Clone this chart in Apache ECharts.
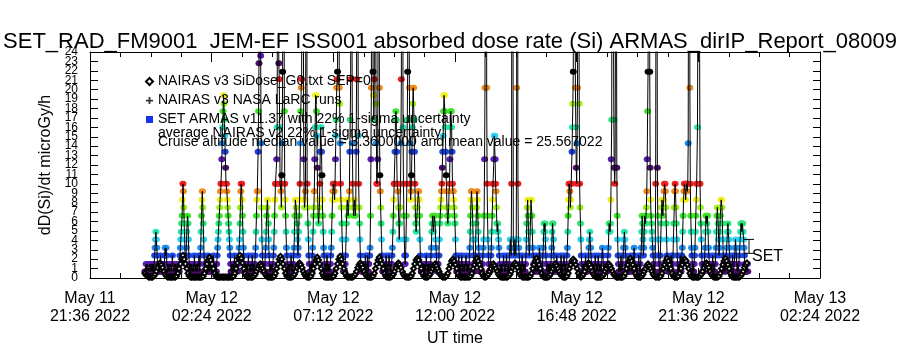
<!DOCTYPE html>
<html>
<head>
<meta charset="utf-8">
<title>SET_RAD_FM9001 JEM-EF ISS001 absorbed dose rate</title>
<script src="https://cdn.jsdelivr.net/npm/echarts@6/dist/echarts.min.js"></script>
<style>
  html, body { margin: 0; padding: 0; background: #fff; }
  #chart { width: 900px; height: 350px; }
</style>
</head>
<body>
<div id="chart"></div>
<script>
// time axis: minutes after 2022-05-11 21:36 UT
const timeTickLabels = ['May 11\n21:36 2022', 'May 12\n02:24 2022', 'May 12\n07:12 2022', 'May 12\n12:00 2022',
  'May 12\n16:48 2022', 'May 12\n21:36 2022', 'May 13\n02:24 2022'];

// SET ARMAS dose rate, one sample per minute from armasStart
const armasStart = 130;
const armasDose = [
  0.7,0.7,0.7,1.5,0.7,0.7,1.5,1.5,0.7,0.7,0.7,1.5,0.7,0.7,1.5,0.7,0.7,1.5,1.5,0.7,1.5,0.7,1.5,2.4,3.2,4.1,4.9,4.1,3.2,2.4,1.5,0.7,0.7,1.5,0.7,0.7,1.5,2.4,1.5,0.7,0.7,1.5,0.7,1.5,0.7,0.7,1.5,2.4,3.2,2.4,3.2,2.4,1.5,0.7,1.5,0.7,0.7,1.5,0.7,0.7,
  0.7,1.5,0.7,0.7,1.5,2.4,1.5,0.7,0.7,0.7,1.5,0.7,1.5,1.5,0.7,0.7,1.5,0.7,0.7,1.5,0.7,0.7,1.5,2.4,3.2,4.1,4.9,5.8,6.6,8.3,10,9.2,7.5,5.8,4.1,2.4,1.5,2.4,3.2,4.9,5.8,6.6,5.8,4.1,2.4,1.5,0.7,0.7,1.5,0.7,0.7,1.5,1.5,0.7,0.7,1.5,0.7,2.4,1.5,0.7,
  0.7,1.5,0.7,0.7,1.5,0.7,0.7,1.5,2.4,1.5,0.7,2.4,3.2,4.9,6.6,8.3,9.2,7.5,5.8,4.1,2.4,1.5,0.7,0.7,1.5,0.7,0.7,1.5,0.7,2.4,1.5,0.7,0.7,1.5,0.7,0.7,1.5,0.7,1.5,0.7,0.7,1.5,2.4,1.5,0.7,1.5,0.7,0.7,1.5,0.7,1.5,2.4,3.2,4.1,4.9,5.8,6.6,7.5,8.3,9.2,
  10,10,12.6,14.3,16,17.7,19.4,18.5,16.8,15.1,13.4,11.7,10,10,9.2,8.3,7.5,6.6,5.8,4.9,4.1,3.2,2.4,1.5,0.7,0.7,1.5,0.7,0.7,1.5,0.7,1.5,2.4,1.5,0.7,0.7,1.5,0.7,1.5,0.7,0.7,1.5,2.4,3.2,4.1,5.8,7.5,9.2,10,10,8.3,6.6,4.9,3.2,2.4,1.5,0.7,0.7,1.5,0.7,
  0.7,1.5,0.7,0.7,1.5,2.4,1.5,0.7,0.7,1.5,0.7,0.7,1.5,0.7,2.4,1.5,0.7,1.5,0.7,0.7,1.5,2.4,3.2,4.9,6.6,8.3,9.2,9.2,13.4,17.7,22.8,60,120,45,23.6,14.3,7.5,4.1,2.4,1.5,0.7,0.7,1.5,0.7,1.5,2.4,3.2,4.9,6.6,7.5,8.3,8.3,5.8,4.1,2.4,1.5,0.7,1.5,0.7,0.7,
  0.7,1.5,0.7,1.5,2.4,3.2,4.9,6.6,8.3,10,10,10,12.6,16,40,90,30,22.8,21.1,16,10,10,9.2,7.5,10.9,14.3,21.9,50,110,40,17.7,10,8.3,6.6,4.9,3.2,2.4,1.5,0.7,0.7,1.5,0.7,1.5,0.7,0.7,1.5,2.4,1.5,0.7,1.5,0.7,1.5,2.4,3.2,4.9,6.6,8.3,8.3,7.5,6.6,
  5.8,4.1,2.4,3.2,4.9,6.6,8.3,10,14.3,17.7,20.2,21.1,70,150,80,30,12.6,8.3,7.5,8.3,9.2,30,100,40,10,7.5,5.8,4.1,2.4,1.5,0.7,1.5,0.7,0.7,1.5,0.7,2.4,3.2,4.9,6.6,7.5,9.2,12.6,16,19.4,19.4,17.7,15.1,11.7,8.3,6.6,5.8,6.6,7.5,10,13.4,16,16,13.4,10.9,
  8.3,6.6,4.9,3.2,2.4,1.5,0.7,0.7,1.5,0.7,1.5,2.4,1.5,0.7,1.5,0.7,0.7,1.5,0.7,1.5,2.4,3.2,4.9,6.6,8.3,9.2,10,10,9.2,8.3,10,12.6,15.1,16.8,20.2,21.1,21.9,60,140,60,20.2,18.5,14.3,10,8.3,7.5,5.8,4.1,2.4,1.5,0.7,0.7,1.5,0.7,1.5,2.4,4.1,5.8,7.5,8.3,
  7.5,6.6,7.5,8.3,9.2,13.4,16.8,21.1,50,120,30,14.3,10,7.5,6.6,7.5,8.3,7.5,6.6,7.5,13.4,21.1,45,90,40,15.1,10,7.5,5.8,4.1,2.4,1.5,0.7,0.7,1.5,0.7,1.5,0.7,0.7,1.5,0.7,1.5,2.4,1.5,0.7,1.5,0.7,2.4,1.5,0.7,1.5,2.4,2.4,3.2,6.6,12.6,20.2,40,120,60,
  21.9,19.4,16.8,21.1,50,110,40,18.5,14.3,10,10,12.6,30,90,60,20.2,10.9,9.2,7.5,5.8,4.1,2.4,1.5,0.7,0.7,1.5,0.7,1.5,0.7,0.7,1.5,2.4,1.5,0.7,1.5,0.7,0.7,1.5,2.4,1.5,0.7,1.5,0.7,0.7,1.5,2.4,3.2,4.9,6.6,8.3,10,10,13.4,16.8,17.7,16.8,13.4,10,10,9.2,
  7.5,5.8,4.1,5.8,7.5,10,14.3,21.1,70,140,50,16,10,6.6,4.1,2.4,1.5,2.4,4.1,6.6,10,16.8,21.9,60,100,35,20.2,14.3,10,8.3,9.2,10.9,13.4,16,18.5,20.2,20.2,16.8,13.4,10,7.5,5.8,4.9,5.8,6.6,7.5,8.3,9.2,9.2,8.3,6.6,4.1,2.4,1.5,0.7,0.7,1.5,0.7,1.5,0.7,
  1.5,0.7,0.7,1.5,0.7,1.5,2.4,1.5,0.7,0.7,1.5,0.7,1.5,0.7,0.7,1.5,0.7,2.4,3.2,4.9,5.8,6.6,5.8,4.9,5.8,6.6,6.6,5.8,4.1,3.2,2.4,1.5,0.7,0.7,1.5,0.7,2.4,4.1,5.8,6.6,7.5,8.3,9.2,10,11.7,13.4,15.1,17.7,19.4,19.4,17.7,16,13.4,10.9,9.2,7.5,6.6,5.8,6.6,7.5,
  9.2,10,12.6,16,17.7,17.7,16,13.4,10,9.2,9.2,8.3,7.5,6.6,5.8,4.1,2.4,1.5,0.7,1.5,0.7,0.7,1.5,2.4,1.5,0.7,0.7,1.5,0.7,1.5,2.4,1.5,0.7,1.5,0.7,0.7,1.5,0.7,0.7,1.5,2.4,1.5,0.7,1.5,0.7,0.7,1.5,0.7,2.4,3.2,4.9,6.6,8.3,9.2,9.2,7.5,5.8,4.1,2.4,1.5,
  0.7,1.5,2.4,4.1,5.8,7.5,9.2,8.3,6.6,4.9,3.2,2.4,1.5,0.7,0.7,1.5,0.7,1.5,0.7,1.5,2.4,3.2,4.1,6.6,12.6,20.2,80,150,60,20.2,10,6.6,4.1,2.4,1.5,0.7,1.5,0.7,1.5,2.4,3.2,4.9,6.6,8.3,10,10,12.6,15.1,15.1,12.6,10,9.2,7.5,5.8,4.9,5.8,4.9,4.1,3.2,2.4,
  1.5,0.7,0.7,1.5,0.7,1.5,0.7,0.7,1.5,2.4,1.5,0.7,0.7,1.5,0.7,1.5,2.4,1.5,0.7,0.7,1.5,0.7,1.5,2.4,3.2,4.1,3.2,2.4,10,80,150,40,4.1,3.2,2.4,3.2,4.1,3.2,2.4,4.1,20.2,90,50,10,4.1,3.2,2.4,1.5,0.7,1.5,0.7,0.7,1.5,2.4,1.5,0.7,1.5,0.7,0.7,1.5,
  0.7,1.5,2.4,4.1,5.8,7.5,8.3,6.6,4.9,3.2,2.4,3.2,4.9,6.6,8.3,8.3,6.6,4.9,3.2,2.4,1.5,0.7,0.7,1.5,0.7,1.5,2.4,1.5,0.7,0.7,1.5,0.7,1.5,2.4,3.2,2.4,1.5,0.7,0.7,1.5,0.7,1.5,2.4,3.2,4.9,5.8,4.9,5.8,4.1,2.4,1.5,0.7,0.7,1.5,0.7,1.5,0.7,0.7,1.5,0.7,
  0.7,1.5,2.4,3.2,4.9,5.8,5.8,4.1,2.4,1.5,0.7,0.7,1.5,0.7,1.5,2.4,1.5,0.7,0.7,1.5,0.7,1.5,0.7,0.7,1.5,2.4,1.5,0.7,1.5,0.7,0.7,1.5,2.4,1.5,0.7,1.5,0.7,0.7,1.5,2.4,3.2,4.9,6.6,8.3,10,10,9.2,7.5,8.3,10,10,13.4,16,18.5,21.9,70,160,90,40,20.2,
  16,11.7,10,14.3,20.2,40,120,50,18.5,10,7.5,5.8,4.1,2.4,1.5,0.7,0.7,1.5,0.7,1.5,0.7,0.7,1.5,2.4,1.5,0.7,1.5,0.7,0.7,1.5,2.4,3.2,4.1,4.9,4.1,3.2,2.4,1.5,0.7,0.7,1.5,0.7,1.5,0.7,0.7,1.5,2.4,1.5,0.7,0.7,1.5,0.7,1.5,2.4,1.5,0.7,0.7,1.5,0.7,1.5,
  0.7,1.5,2.4,3.2,2.4,1.5,0.7,1.5,0.7,0.7,1.5,0.7,1.5,0.7,0.7,1.5,2.4,3.2,4.9,5.8,5.8,4.9,5.8,8.3,12.6,16.8,60,130,70,30,16.8,11.7,10,11.7,30,90,40,11.7,6.6,4.1,2.4,1.5,0.7,0.7,1.5,0.7,1.5,2.4,1.5,0.7,0.7,1.5,2.4,3.2,4.1,4.9,4.1,3.2,2.4,1.5,
  0.7,1.5,0.7,0.7,1.5,0.7,1.5,0.7,0.7,1.5,2.4,1.5,0.7,0.7,1.5,0.7,1.5,2.4,3.2,2.4,1.5,0.7,0.7,1.5,0.7,1.5,0.7,0.7,1.5,2.4,1.5,0.7,1.5,0.7,2.4,3.2,4.9,6.6,5.8,4.1,2.4,3.2,4.9,6.6,6.6,5.8,6.6,7.5,9.2,12.6,17.7,21.9,50,130,70,21.9,11.7,8.3,6.6,5.8,
  4.9,4.1,3.2,2.4,1.5,0.7,1.5,0.7,2.4,10,40,100,45,11.7,6.6,4.1,2.4,1.5,0.7,1.5,2.4,4.1,5.8,7.5,8.3,7.5,6.6,7.5,8.3,9.2,10,10,9.2,7.5,5.8,4.1,2.4,1.5,0.7,0.7,1.5,0.7,1.5,0.7,0.7,1.5,2.4,1.5,0.7,1.5,2.4,4.1,5.8,7.5,9.2,10,9.2,7.5,5.8,4.1,
  2.4,1.5,0.7,1.5,0.7,0.7,1.5,2.4,1.5,0.7,1.5,2.4,3.2,4.9,6.6,8.3,9.2,10,10,9.2,8.3,9.2,10,10,9.2,10,14.3,40,110,60,20.2,10,6.6,4.9,3.2,2.4,1.5,0.7,1.5,0.7,1.5,2.4,3.2,4.9,6.6,8.3,10,10,16,30,100,180,70,25,10,7.5,5.8,4.1,2.4,1.5,
  0.7,0.7,1.5,0.7,1.5,2.4,3.2,4.9,6.6,6.6,5.8,6.6,6.6,4.9,3.2,2.4,1.5,0.7,0.7,1.5,0.7,1.5,0.7,1.5,2.4,1.5,0.7,1.5,0.7,0.7,1.5,2.4,3.2,4.9,6.6,7.5,6.6,5.8,4.1,2.4,3.2,4.9,6.6,7.5,8.3,8.3,7.5,5.8,4.1,2.4,1.5,0.7,1.5,0.7,0.7,1.5,2.4,3.2,4.1,4.9,
  5.8,4.9,4.1,3.2,2.4,1.5,0.7,0.7,1.5,0.7,1.5,2.4,1.5,0.7,0.7,1.5,2.4,3.2,4.1,3.2,2.4,1.5,0.7,1.5,0.7,0.7,1.5,2.4,3.2,4.1,4.9,5.8,5.8,4.9,5.8,5.8,4.9,4.1,3.2,2.4,1.5,0.7,0.7,1.5,0.7,0.7,1.5,0.7
];

// NAIRAS v3 model dose rate, one sample every 3 minutes from nairasStart
const nairasStart = 130;
const nairasStep = 3;
const nairasDose = [
  0.5,0.3,0.2,0.1,0.1,0.1,0.1,
  0.2,0.4,0.7,1.1,1.4,1.6,1.4,1.1,0.7,0.4,0.2, 0.1,0.1,0.1,0.1,0.1,0.1,0.1,
  0.2,0.5,1.0,1.5,2.0,2.4,2.0,1.5,1.0,0.5,0.2, 0.1,0.1,0.1,0.1,0.1,0.1,0.1,0.1,0.1,0.1,
  0.2,0.5,1.0,1.5,1.9,2.2,1.9,1.5,1.0,0.5,0.2, 0.1,0.1,0.1,0.1,0.1,0.1,0.1,0.1,0.1,0.1,0.1,0.1,0.1,
  0.2,0.5,1.0,1.6,2.1,2.4,2.1,1.6,1.0,0.5,0.2, 0.1,0.1,0.1,0.1,0.1,
  0.2,0.4,0.7,1.0,1.3,1.5,1.3,1.0,0.7,0.4,0.2, 0.1,0.1,0.1,0.1,0.1,
  0.2,0.5,1.0,1.5,2.0,2.3,2.0,1.5,1.0,0.5,0.2, 0.1,0.1,0.1,0.1,
  0.2,0.4,0.7,1.1,1.4,1.6,1.4,1.1,0.7,0.4,0.2, 0.1,0.1,0.1,
  0.2,0.5,1.0,1.5,1.9,2.2,1.9,1.5,1.0,0.5,0.2, 0.1,0.1,0.1,0.1,0.1,0.1,0.1,
  0.2,0.5,1.0,1.5,2.0,2.3,2.0,1.5,1.0,0.5,0.2, 0.1,0.1,0.1,0.1,0.1,
  0.2,0.4,0.7,1.1,1.4,1.6,1.4,1.1,0.7,0.4,0.2, 0.1,0.1,0.1,0.1,
  0.2,0.5,1.0,1.5,1.9,2.2,1.9,1.5,1.0,0.5,0.2, 0.1,0.1,0.1,0.1,
  0.2,0.4,0.7,1.1,1.4,1.6,1.4,1.1,0.7,0.4,0.2, 0.1,0.1,0.1,0.1,
  0.2,0.5,1.0,1.5,1.9,2.1,1.9,1.5,1.0,0.5,0.2, 0.1,0.1,0.1,
  0.2,0.4,0.7,1.0,1.3,1.5,1.3,1.0,0.7,0.4,0.2, 0.1,0.1,0.1,
  0.2,0.5,1.0,1.4,1.8,2.0,1.8,1.4,1.0,0.5,0.2, 0.1,0.1,0.1,0.1,0.1,0.1,0.1,0.1,
  0.2,0.5,1.0,1.4,1.8,2.1,1.8,1.4,1.0,0.5,0.2, 0.1,0.1,
  0.2,0.4,0.7,1.0,1.3,1.5,1.3,1.0,0.7,0.4,0.2, 0.1,0.1,0.1,0.1,0.1,0.1,
  0.2,0.4,0.7,1.1,1.4,1.6,1.4,1.1,0.7,0.4,0.2, 0.1,0.1,0.1,0.1,0.1,0.1,
  0.2,0.5,1.0,1.4,1.8,2.1,1.8,1.4,1.0,0.5,0.2, 0.1,0.1,0.1,0.1,
  0.2,0.4,0.7,1.0,1.3,1.5,1.3,1.0,0.7,0.4,0.2, 0.1,0.1,0.1,
  0.2,0.5,1.0,1.4,1.8,2.0,1.8,1.4,1.0,0.5,0.2, 0.1,
  0.2,0.4,0.7,1.1,1.4,1.6,1.4,1.1,0.7,0.4,0.2, 0.1,0.1,0.1,0.1,0.1,
  0.2,0.4,0.7,1.0,1.3,1.5,1.3,1.0,0.7,0.4,0.2, 0.1,0.1,0.1,0.1,0.1,0.1,
  0.2,0.5,1.0,1.4,1.8,2.1,1.8,1.4,1.0,0.5,0.2, 0.1,0.1,0.1,
  0.2,0.4,0.7,1.0,1.3,1.5,1.3,1.0,0.7,0.4,0.2, 0.1,0.1,0.1,0.1,
  0.2,0.5,1.0,1.4,1.8,2.1,1.8,1.4,1.0,0.5,0.2, 0.1,0.1,0.1,
  0.2,0.5,1.0,1.4,1.8,2.0,1.8,1.4,1.0,0.5,0.2, 0.1,0.1,0.1,0.1,0.1,0.1,
  0.2,0.4,0.7,1.1,1.4,1.6,1.4,1.1,0.7,0.4,0.2, 0.1,0.1,0.1,0.1,
  0.2,0.5,1.0,1.4,1.8,2.1,1.8,1.4,1.0,0.5,0.2, 0.1,0.1,0.1,0.1,0.1,0.1,
  0.2,0.4,0.7,1.1,1.4,1.6
];

// SET uncertainty bar: cruise median with 22% 1-sigma
const setMedian = 3.36;
const setSigma = 0.22;
const setBarMinute = 1560;

const legendNames = ['NAIRAS v3 SiDose_G0.txt SEP=0', 'NAIRAS v3 NASA LaRC runs', 'SET ARMAS v11.37 with 22% 1-sigma uncertainty'];
const noteLines = ['average NAIRAS v2 22% 1-sigma uncertainty',
  'Cruise altitude median value = 3.3600000 and mean value = 25.567022'];

// IDL style colour table, cycles every 13 dose steps
const levelColors = ['#4b0f6e', '#5a1eb4', '#1e46e6', '#1e8cf0', '#28d2f0', '#28e6b4', '#28e678',
  '#3ce628', '#a0f01e', '#f0f01e', '#f08c1e', '#f01e1e', '#000000'];

function doseColor(v) {
  const k = Math.round((v - 0.65) / 0.85);
  return levelColors[((k % 13) + 13) % 13];
}

const FONT = "'Liberation Sans', Arial, sans-serif";

const armasPoints = armasDose.map((v, i) => [armasStart + i, v]);
const nairasPoints = nairasDose.map((v, i) => [nairasStart + i * nairasStep, v]);

var chart = echarts.init(document.getElementById('chart'));

const frameLine = { show: true, onZero: false, lineStyle: { color: '#000', width: 1 } };
const yLabelStyle = { color: '#000', fontSize: 12, margin: 12, fontFamily: FONT };

var option = {
  animation: false,
  backgroundColor: '#fff',
  title: {
    text: 'SET_RAD_FM9001  JEM-EF ISS001 absorbed dose rate (Si) ARMAS_dirIP_Report_08009',
    left: 'center',
    top: 26,
    textStyle: { fontSize: 22, fontWeight: 'normal', color: '#000', fontFamily: FONT }
  },
  grid: { left: 90, right: 80, top: 52, bottom: 72, containLabel: false, outerBoundsMode: 'none' },
  legend: {
    orient: 'vertical',
    left: 145,
    top: 73,
    padding: 0,
    itemWidth: 7,
    itemHeight: 7,
    itemGap: 2,
    selectedMode: false,
    textStyle: { fontSize: 14, lineHeight: 17, color: '#000', fontFamily: FONT },
    data: [
      { name: legendNames[0], icon: 'emptyDiamond' },
      { name: legendNames[1], icon: 'path://M3,0h2v3h3v2h-3v3h-2v-3h-3v-2h3z', itemStyle: { color: '#000' } },
      { name: legendNames[2], icon: 'rect', itemStyle: { color: '#1432f0' } }
    ]
  },
  graphic: noteLines.map((t, i) => ({
    type: 'text',
    x: 158,
    y: 133 + i * 9,
    z: 10,
    style: { text: t, fontSize: 14, fontFamily: FONT, fill: '#000', verticalAlign: 'middle' }
  })),
  xAxis: [
    {
      type: 'value', position: 'bottom', min: 0, max: 1728, interval: 288,
      axisLine: frameLine,
      axisTick: { show: true, inside: true, length: 10, lineStyle: { color: '#000' } },
      minorTick: { show: true, splitNumber: 4, length: 5, lineStyle: { color: '#000' } },
      splitLine: { show: false },
      axisLabel: {
        color: '#000', fontSize: 16, lineHeight: 18, margin: 12, fontFamily: FONT,
        showMinLabel: true, showMaxLabel: true,
        formatter: v => timeTickLabels[Math.round(v / 288)]
      },
      name: 'UT time', nameLocation: 'middle', nameGap: 44,
      nameTextStyle: { fontSize: 16, color: '#000', fontFamily: FONT }
    },
    {
      type: 'value', position: 'top', min: 0, max: 1728, interval: 288,
      axisLine: frameLine,
      axisTick: { show: true, inside: true, length: 10, lineStyle: { color: '#000' } },
      minorTick: { show: true, splitNumber: 4, length: 5, lineStyle: { color: '#000' } },
      splitLine: { show: false },
      axisLabel: { show: false }
    }
  ],
  yAxis: [
    {
      // frame, ticks and the odd labels
      type: 'value', position: 'left', min: 0, max: 24, interval: 1,
      axisLine: frameLine,
      axisTick: { show: true, inside: true, length: 8, lineStyle: { color: '#000' } },
      splitLine: { show: false },
      axisLabel: Object.assign({}, yLabelStyle, {
        showMinLabel: false, showMaxLabel: false,
        formatter: v => (v % 2 === 1 ? String(v) : '')
      }),
      name: 'dD(Si)/dt microGy/h', nameLocation: 'middle', nameGap: 36,
      nameTextStyle: { fontSize: 16, color: '#000', fontFamily: FONT }
    },
    {
      // even labels
      type: 'value', position: 'left', min: 0, max: 24, interval: 2,
      axisLine: { show: false },
      axisTick: { show: false },
      splitLine: { show: false },
      axisLabel: Object.assign({}, yLabelStyle, { showMinLabel: true, showMaxLabel: true })
    },
    {
      type: 'value', position: 'right', min: 0, max: 24, interval: 1,
      axisLine: frameLine,
      axisTick: { show: true, inside: true, length: 7, lineStyle: { color: '#000' } },
      splitLine: { show: false },
      axisLabel: { show: false }
    }
  ],
  series: [
    {
      name: legendNames[2],
      type: 'scatter',
      data: armasPoints,
      symbol: 'circle',
      symbolSize: [7, 6],
      clip: true,
      z: 2,
      itemStyle: { color: p => doseColor(p.value[1]), opacity: 1 }
    },
    {
      name: 'ARMAS trace',
      type: 'line',
      data: armasPoints,
      showSymbol: false,
      symbol: 'none',
      clip: true,
      z: 3,
      lineStyle: { color: '#000', width: 1 },
      silent: true
    },
    {
      name: legendNames[0],
      type: 'line',
      data: nairasPoints,
      symbol: 'emptyDiamond',
      symbolSize: 5,
      showSymbol: true,
      clip: true,
      z: 4,
      itemStyle: { color: '#000', borderColor: '#000', borderWidth: 1 },
      lineStyle: { color: '#000', width: 1 }
    },
    {
      name: legendNames[1],
      type: 'scatter',
      data: [],
      itemStyle: { color: '#000' }
    },
    {
      name: 'SET',
      type: 'custom',
      z: 5,
      data: [[setBarMinute, setMedian * (1 - setSigma), setMedian * (1 + setSigma)]],
      renderItem: function (params, api) {
        const lo = api.coord([api.value(0), api.value(1)]);
        const hi = api.coord([api.value(0), api.value(2)]);
        const cap = 5;
        return {
          type: 'group',
          children: [
            { type: 'line', shape: { x1: lo[0], y1: lo[1], x2: hi[0], y2: hi[1] }, style: { stroke: '#000', lineWidth: 1 } },
            { type: 'line', shape: { x1: lo[0] - cap, y1: lo[1], x2: lo[0] + cap, y2: lo[1] }, style: { stroke: '#000', lineWidth: 1 } },
            { type: 'line', shape: { x1: hi[0] - cap, y1: hi[1], x2: hi[0] + cap, y2: hi[1] }, style: { stroke: '#000', lineWidth: 1 } },
            { type: 'text', x: lo[0] + 3, y: lo[1] + 3, style: { text: 'SET', fontSize: 16, fontFamily: FONT, fill: '#000', verticalAlign: 'middle' } }
          ]
        };
      }
    }
  ]
};

chart.setOption(option);

window.addEventListener('resize', function () {
  chart.resize();
});
</script>
</body>
</html>
